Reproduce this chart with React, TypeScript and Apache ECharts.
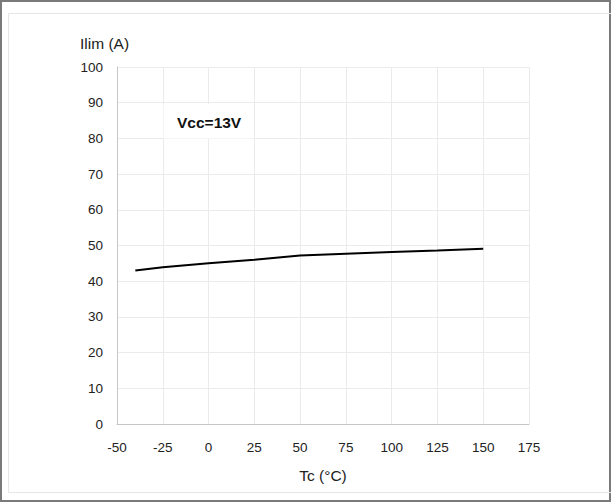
import React, { useEffect, useRef } from "react";
import * as echarts from "echarts";

const temperatures = [-40, -25, 0, 25, 50, 75, 100, 125, 150];
const currentLimit = [43.0, 43.9, 45.0, 46.0, 47.2, 47.7, 48.2, 48.6, 49.1];
const xAxisName = "Tc (°C)";
const yAxisName = "Ilim (A)";
const annotation = "Vcc=13V";

const FONT = "'Liberation Sans', Arial, sans-serif";

export default function App() {
  const ref = useRef<HTMLDivElement>(null);
  useEffect(() => {
    if (!ref.current) return;
    const chart = echarts.init(ref.current, undefined, { renderer: "svg" });
    const data = temperatures.map((t, i) => [t, currentLimit[i]]);
    chart.setOption({
      animation: false,
      backgroundColor: "#ffffff",
      textStyle: { fontFamily: FONT },
      grid: { left: 117, right: 82, top: 67, bottom: 78 },
      xAxis: {
        type: "value",
        min: -50,
        max: 175,
        interval: 25,
        name: xAxisName,
        nameLocation: "middle",
        nameGap: 43,
        nameTextStyle: { color: "#222", fontSize: 15.5, fontFamily: FONT },
        axisLine: { show: true, onZero: false, lineStyle: { color: "#c6c6c6", width: 1 } },
        axisTick: { show: false },
        axisLabel: { color: "#222", fontSize: 13.5, margin: 16, fontFamily: FONT },
        splitLine: { show: true, lineStyle: { color: "#ebebeb", width: 1 } },
      },
      yAxis: {
        type: "value",
        min: 0,
        max: 100,
        interval: 10,
        name: yAxisName,
        nameLocation: "end",
        nameGap: 16,
        nameTextStyle: { color: "#222", fontSize: 15.5, fontFamily: FONT, align: "left", padding: [0, 0, 0, -37] },
        axisLine: { show: true, onZero: false, lineStyle: { color: "#c6c6c6", width: 1 } },
        axisTick: { show: false },
        axisLabel: { color: "#222", fontSize: 13.5, margin: 14, fontFamily: FONT },
        splitLine: { show: true, lineStyle: { color: "#ebebeb", width: 1 } },
      },
      graphic: [
        {
          type: "rect",
          shape: { x: 1, y: 1, width: 609, height: 500 },
          style: { fill: "none", stroke: "#7a7a7a", lineWidth: 2 },
          silent: true,
        },
        {
          type: "rect",
          shape: { x: 8.5, y: 13.5, width: 620, height: 479 },
          style: { fill: "none", stroke: "#e6e6e6", lineWidth: 1 },
          silent: true,
        },
        {
          type: "rect",
          shape: { x: 529, y: 67, width: 1, height: 357 },
          style: { fill: "#dadada" },
          silent: true,
        },
        {
          type: "rect",
          z: 5,
          shape: { x: 163.5, y: 104, width: 89, height: 34.5 },
          style: { fill: "#ffffff" },
          silent: true,
        },
        {
          type: "text",
          z: 6,
          left: 177,
          top: 114,
          style: { text: annotation, fill: "#111", font: `bold 15.5px ${FONT}` },
          silent: true,
        },
      ],
      series: [
        {
          type: "line",
          data,
          showSymbol: false,
          symbol: "none",
          lineStyle: { color: "#000", width: 2 },
          smooth: false,
        },
      ],
    });
    return () => chart.dispose();
  }, []);
  return (
    <div
      ref={ref}
      style={{ position: "fixed", left: 0, top: 0, width: 611, height: 502 }}
    />
  );
}
